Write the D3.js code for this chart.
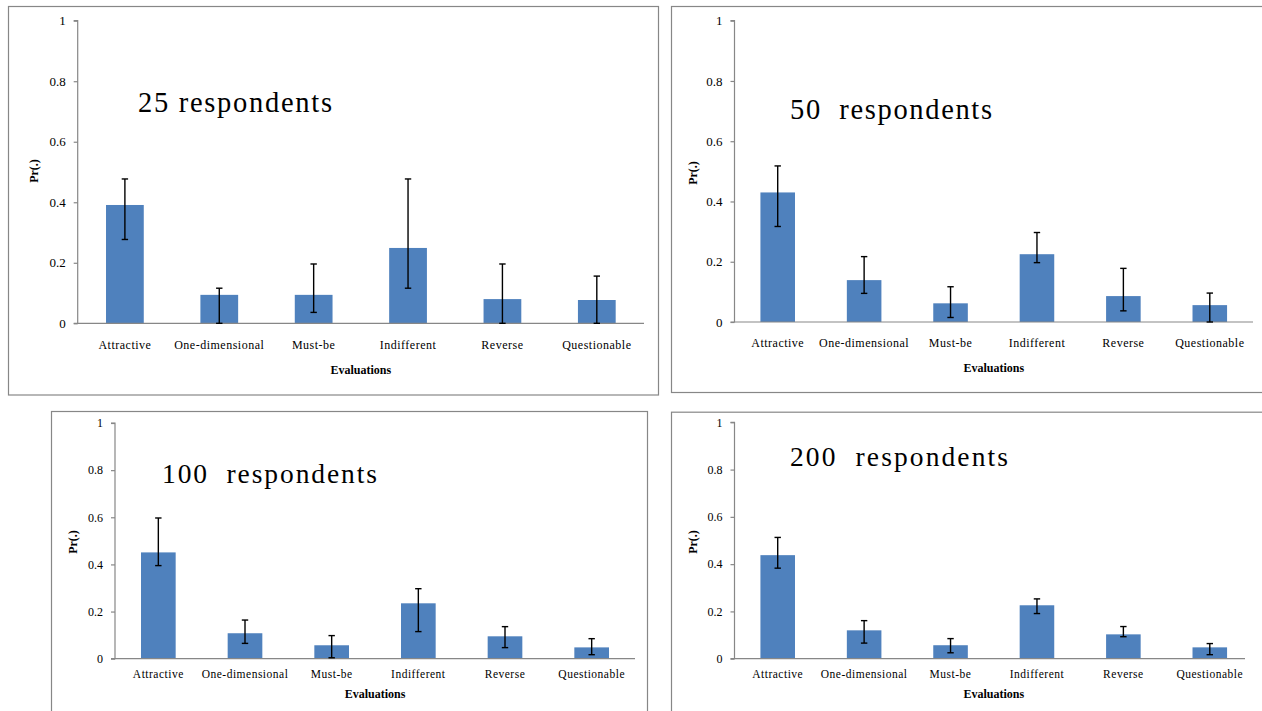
<!DOCTYPE html>
<html>
<head>
<meta charset="utf-8">
<script src="https://cdn.jsdelivr.net/npm/d3@7/dist/d3.min.js"></script>
<style>
  html, body { margin: 0; padding: 0; background: #fff; }
  svg { display: block; }
  text { font-family: "Liberation Serif", "Times New Roman", serif; fill: #000; }
</style>
</head>
<body>
<svg id="chart" width="1262" height="711"></svg>
<script>
// Kano evaluation probabilities by sample size
const categories = ["Attractive", "One-dimensional", "Must-be", "Indifferent", "Reverse", "Questionable"];

const titles = ["25 respondents", "50  respondents", "100  respondents", "200  respondents"];

const mean25  = [0.391, 0.094, 0.094, 0.249, 0.080, 0.077];
const low25   = [0.277, 0.000, 0.036, 0.116, 0.000, 0.000];
const high25  = [0.477, 0.116, 0.196, 0.477, 0.196, 0.156];

const mean50  = [0.430, 0.139, 0.062, 0.225, 0.086, 0.056];
const low50   = [0.317, 0.095, 0.015, 0.197, 0.037, 0.000];
const high50  = [0.518, 0.217, 0.117, 0.297, 0.178, 0.096];

const mean100 = [0.451, 0.108, 0.057, 0.235, 0.095, 0.048];
const low100  = [0.395, 0.065, 0.004, 0.115, 0.047, 0.017];
const high100 = [0.597, 0.164, 0.098, 0.297, 0.136, 0.085];

const mean200 = [0.438, 0.120, 0.057, 0.226, 0.103, 0.048];
const low200  = [0.383, 0.066, 0.025, 0.191, 0.093, 0.017];
const high200 = [0.513, 0.161, 0.085, 0.253, 0.136, 0.064];

const yTickValues = [0, 0.2, 0.4, 0.6, 0.8, 1];
const yTickLabels = ["0", "0.2", "0.4", "0.6", "0.8", "1"];

const xTitle = "Evaluations";
const yTitle = "Pr(.)";

// Panel geometry (pixels)
const panels = [
  { mean: mean25, low: low25, high: high25, title: titles[0],
    frame: [8, 6, 650, 388.5], x0: 77.7, x1: 644, lineEnd: 644, y0: 323.3, y1: 20.7,
    tickFont: 13, catFont: 12, catPad: 17, titleX: 138, titleY: 112, titleW: 194, titleSize: 28.5,
    xTitleY: 374, yTitleX: 38, yTitleY: 171 },
  { mean: mean50, low: low50, high: high50, title: titles[1],
    frame: [671, 6, 620, 386], x0: 734.5, x1: 1253, lineEnd: 1253, y0: 322, y1: 20.7,
    tickFont: 13, catFont: 12, catPad: 16, titleX: 790, titleY: 119, titleW: 202, titleSize: 28.5,
    xTitleY: 372, yTitleX: 697, yTitleY: 173 },
  { mean: mean100, low: low100, high: high100, title: titles[2],
    frame: [51, 411, 596, 320], x0: 115, x1: 635, lineEnd: 635, y0: 658.7, y1: 423,
    tickFont: 12, catFont: 11.5, catPad: 11, titleX: 162, titleY: 483, titleW: 215, titleSize: 27.5,
    xTitleY: 698, yTitleX: 77, yTitleY: 542 },
  { mean: mean200, low: low200, high: high200, title: titles[3],
    frame: [671, 411.7, 620, 320], x0: 734.5, x1: 1253, lineEnd: 1245, y0: 658.7, y1: 422.3,
    tickFont: 12, catFont: 11.5, catPad: 11, titleX: 790, titleY: 466, titleW: 218, titleSize: 27.5,
    xTitleY: 698, yTitleX: 697, yTitleY: 542 }
];

const svg = d3.select("#chart");
const gray = "#878787";
const barColor = "#4f81bd";

panels.forEach(p => {
  const g = svg.append("g");

  // panel border
  g.append("rect")
    .attr("x", p.frame[0] + 0.5).attr("y", p.frame[1] + 0.5)
    .attr("width", p.frame[2]).attr("height", p.frame[3])
    .attr("fill", "#fff").attr("stroke", gray).attr("stroke-width", 1.2);

  const x = d3.scaleBand().domain(categories).range([p.x0, p.x1]).paddingInner(0.6).paddingOuter(0.3);
  const y = d3.scaleLinear().domain([0, 1]).range([p.y0, p.y1]);

  const rows = categories.map((c, i) => ({ c, v: p.mean[i], lo: p.low[i], hi: p.high[i] }));

  // bars
  g.selectAll("rect.bar").data(rows).join("rect")
    .attr("class", "bar")
    .attr("x", d => x(d.c))
    .attr("width", x.bandwidth())
    .attr("y", d => y(d.v))
    .attr("height", d => y(0) - y(d.v))
    .attr("fill", barColor);

  // y axis
  const yAxis = d3.axisLeft(y).tickValues(yTickValues)
    .tickFormat((d, i) => yTickLabels[i]).tickSize(4).tickPadding(8);
  const ya = g.append("g").attr("transform", `translate(${p.x0},0)`).call(yAxis);
  ya.attr("font-family", null);
  ya.select(".domain").attr("stroke", gray).attr("stroke-width", 1.2).attr("d", `M-4,${p.y1}H0V${p.y0}H-4`);
  ya.selectAll(".tick line").attr("stroke", gray).attr("stroke-width", 1.2);
  ya.selectAll(".tick text").style("font-size", p.tickFont + "px").attr("fill", "#222");

  // x axis
  const xAxis = d3.axisBottom(x).tickSize(0).tickPadding(p.catPad);
  const xa = g.append("g").attr("transform", `translate(0,${p.y0})`).call(xAxis);
  xa.attr("font-family", null);
  xa.select(".domain").remove();
  xa.selectAll(".tick text").style("font-size", p.catFont + "px")
    .attr("fill", "#222").attr("letter-spacing", "0.5px");
  g.append("line")
    .attr("x1", p.x0).attr("x2", p.lineEnd)
    .attr("y1", p.y0).attr("y2", p.y0)
    .attr("stroke", gray).attr("stroke-width", 1.2);

  // error bars
  const cap = 3.2;
  const eb = g.append("g").attr("stroke", "#000").attr("stroke-width", 1.4);
  rows.forEach(d => {
    const cx = x(d.c) + x.bandwidth() / 2;
    eb.append("line").attr("x1", cx).attr("x2", cx).attr("y1", y(d.hi)).attr("y2", y(d.lo));
    eb.append("line").attr("x1", cx - cap).attr("x2", cx + cap).attr("y1", y(d.hi)).attr("y2", y(d.hi));
    eb.append("line").attr("x1", cx - cap).attr("x2", cx + cap).attr("y1", y(d.lo)).attr("y2", y(d.lo));
  });

  // axis titles
  g.append("text")
    .attr("x", (p.x0 + p.x1) / 2).attr("y", p.xTitleY)
    .attr("text-anchor", "middle")
    .style("font-size", "12px").style("font-weight", "bold")
    .text(xTitle);
  g.append("text")
    .attr("transform", `translate(${p.yTitleX},${p.yTitleY}) rotate(-90)`)
    .attr("text-anchor", "middle")
    .style("font-size", "12px").style("font-weight", "bold")
    .text(yTitle);

  // panel title
  g.append("text")
    .attr("x", p.titleX).attr("y", p.titleY)
    .attr("textLength", p.titleW).attr("lengthAdjust", "spacing")
    .style("font-size", p.titleSize + "px")
    .style("white-space", "pre")
    .text(p.title);
});
</script>
</body>
</html>
